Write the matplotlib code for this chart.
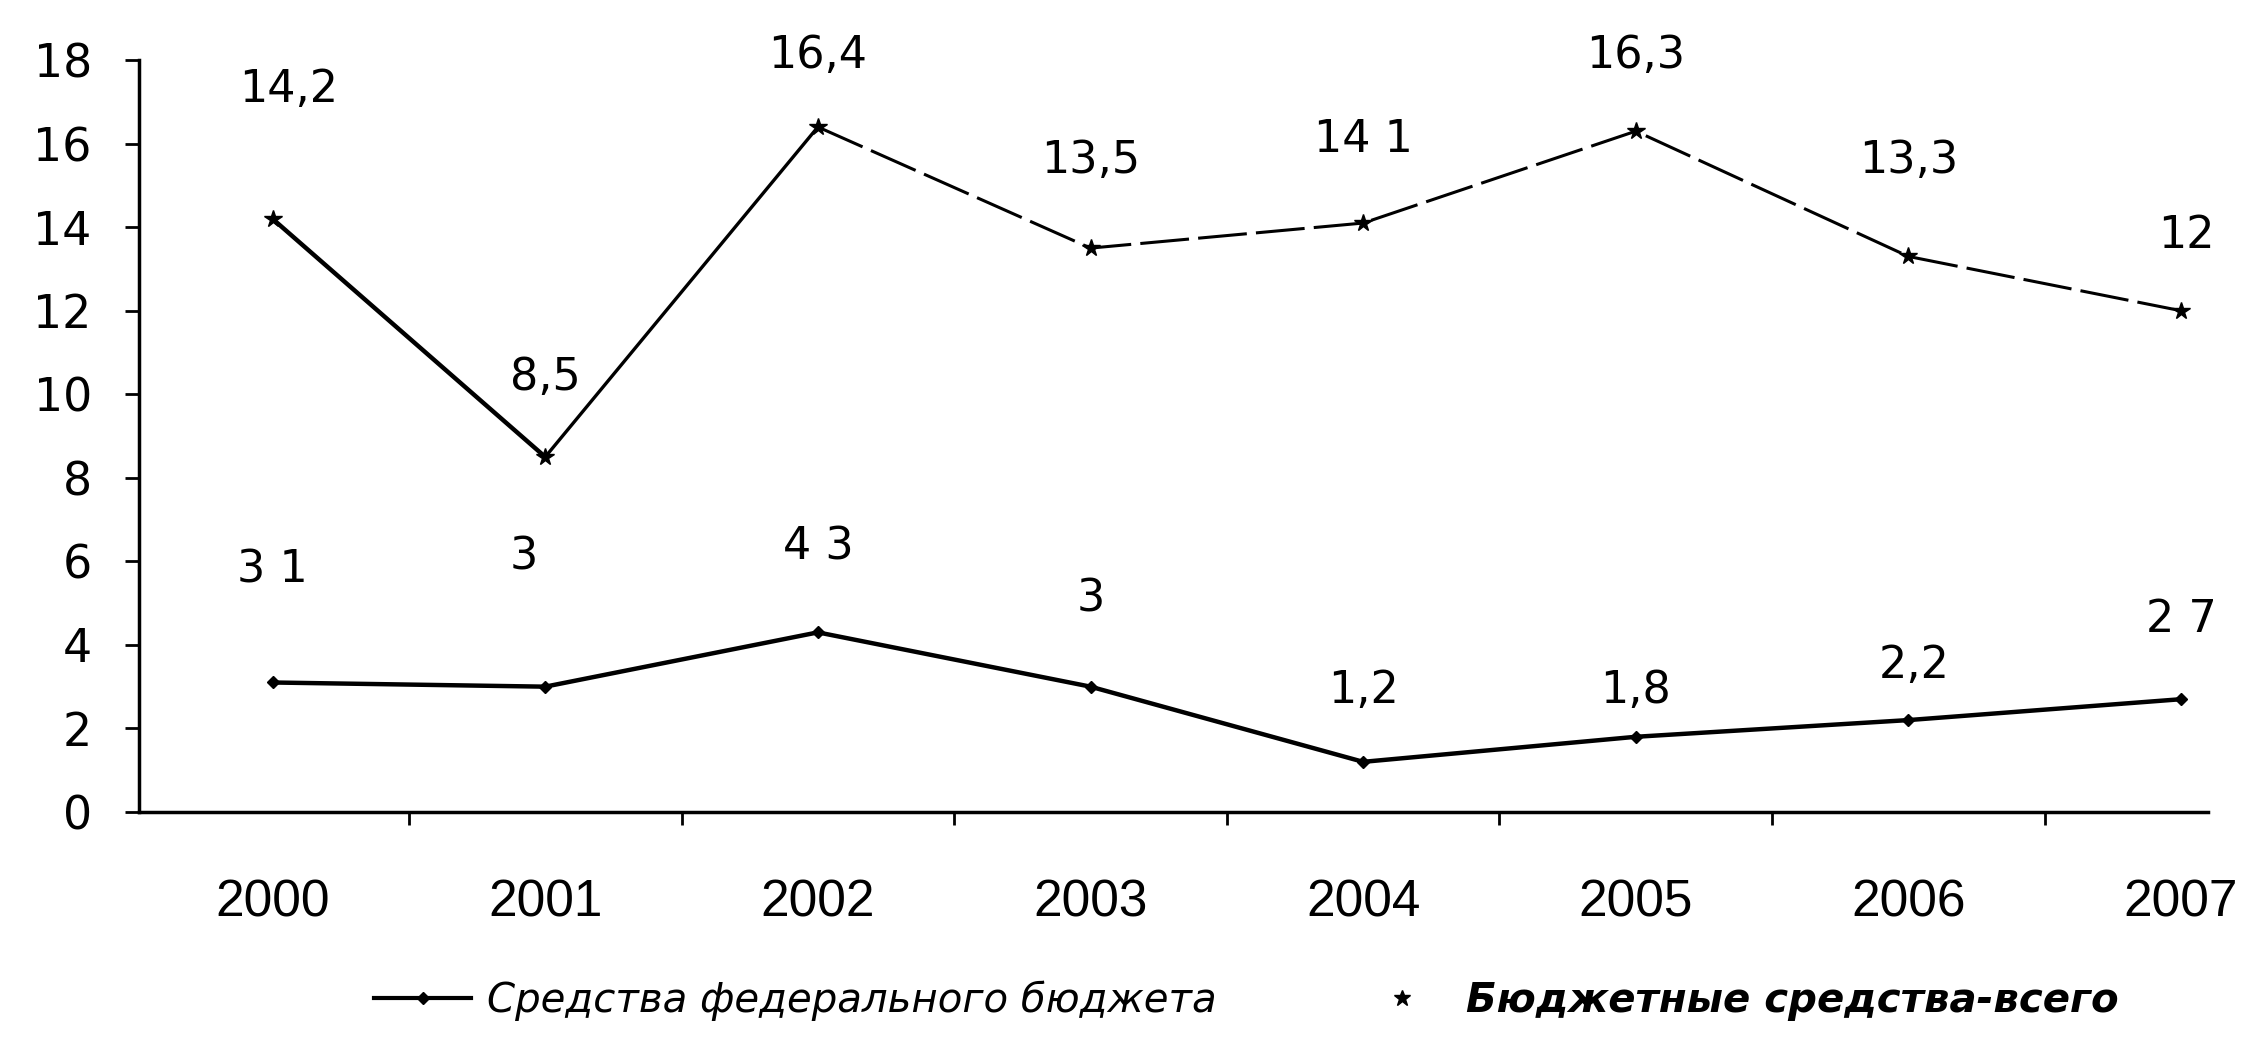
import numpy as np
import matplotlib.pyplot as plt
from matplotlib.lines import Line2D

plt.rcParams['font.family'] = ['DejaVu Sans']

years = ['2000', '2001', '2002', '2003', '2004', '2005', '2006', '2007']
federal = [3.1, 3.0, 4.3, 3.0, 1.2, 1.8, 2.2, 2.7]
total = [14.2, 8.5, 16.4, 13.5, 14.1, 16.3, 13.3, 12.0]
federal_labels = ['3 1', '3', '4 3', '3', '1,2', '1,8', '2,2', '2 7']
total_labels = ['14,2', '8,5', '16,4', '13,5', '14 1', '16,3', '13,3', '12']
y_ticks = [0, 2, 4, 6, 8, 10, 12, 14, 16, 18]

# label offsets (x in categories, y in data units)
fed_off = [(0.0, 2.7), (-0.08, 3.1), (0.0, 2.05), (0.0, 2.1), (0.0, 1.7), (0.0, 1.1), (0.02, 1.3), (0.0, 1.9)]
tot_off = [(0.06, 3.1), (0.0, 1.9), (0.0, 1.7), (0.0, 2.1), (0.0, 2.0), (0.0, 1.8), (0.0, 2.3), (0.02, 1.8)]

fig = plt.figure(figsize=(22.42, 10.37), dpi=100)
ax = fig.add_axes([0.062, 0.217, 0.923, 0.725])

x = np.arange(len(years))
# the scan shows the first stretch of the total line solid, the rest broken
ax.plot(x[:2], total[:2], color='black', lw=3.2, zorder=3)
ax.plot(x[1:3], total[1:3], color='black', lw=2.4, zorder=3)
ax.plot(x[2:], total[2:], color='black', lw=2.2, ls=(0, (16, 3)), zorder=3)
ax.plot(x, total, color='black', lw=0, marker='*', ms=13, zorder=4)
ax.plot(x, federal, color='black', lw=3.2, marker='D', ms=6, zorder=3)

for i in range(len(years)):
    ax.text(x[i] + tot_off[i][0], total[i] + tot_off[i][1], total_labels[i],
            ha='center', va='center', fontsize=32)
    ax.text(x[i] + fed_off[i][0], federal[i] + fed_off[i][1], federal_labels[i],
            ha='center', va='center', fontsize=32)

ax.set_xlim(-0.49, 7.1)
ax.set_ylim(0, 18)
ax.set_yticks(y_ticks)
ax.set_yticklabels([str(v) for v in y_ticks], fontsize=33)
ax.set_xticks(x)
ax.set_xticklabels(years, fontsize=37, family='Liberation Sans')
ax.set_xticks(x[:-1] + 0.5, minor=True)
ax.tick_params(axis='x', which='major', length=0, pad=48)
ax.tick_params(axis='x', which='minor', length=9, width=2, direction='out')
ax.tick_params(axis='y', which='major', length=10, width=2, direction='out', pad=24)
for s in ['top', 'right']:
    ax.spines[s].set_visible(False)
for s in ['left', 'bottom']:
    ax.spines[s].set_linewidth(2.5)

handles = [
    Line2D([], [], color='black', lw=3, marker='D', ms=6),
    Line2D([], [], color='none', marker='*', ms=12, markerfacecolor='black', markeredgecolor='black'),
]
leg = fig.legend(handles, ['Средства федерального бюджета', 'Бюджетные средства-всего'],
                 loc='center', bbox_to_anchor=(0.556, 0.035), ncol=2, frameon=False,
                 prop={'family': 'DejaVu Sans', 'size': 29, 'style': 'italic'},
                 handlelength=2.4, columnspacing=3.4, handletextpad=0.4)
leg.get_texts()[1].set_fontweight('bold')

fig.savefig('out.png', dpi=100, facecolor='white')
